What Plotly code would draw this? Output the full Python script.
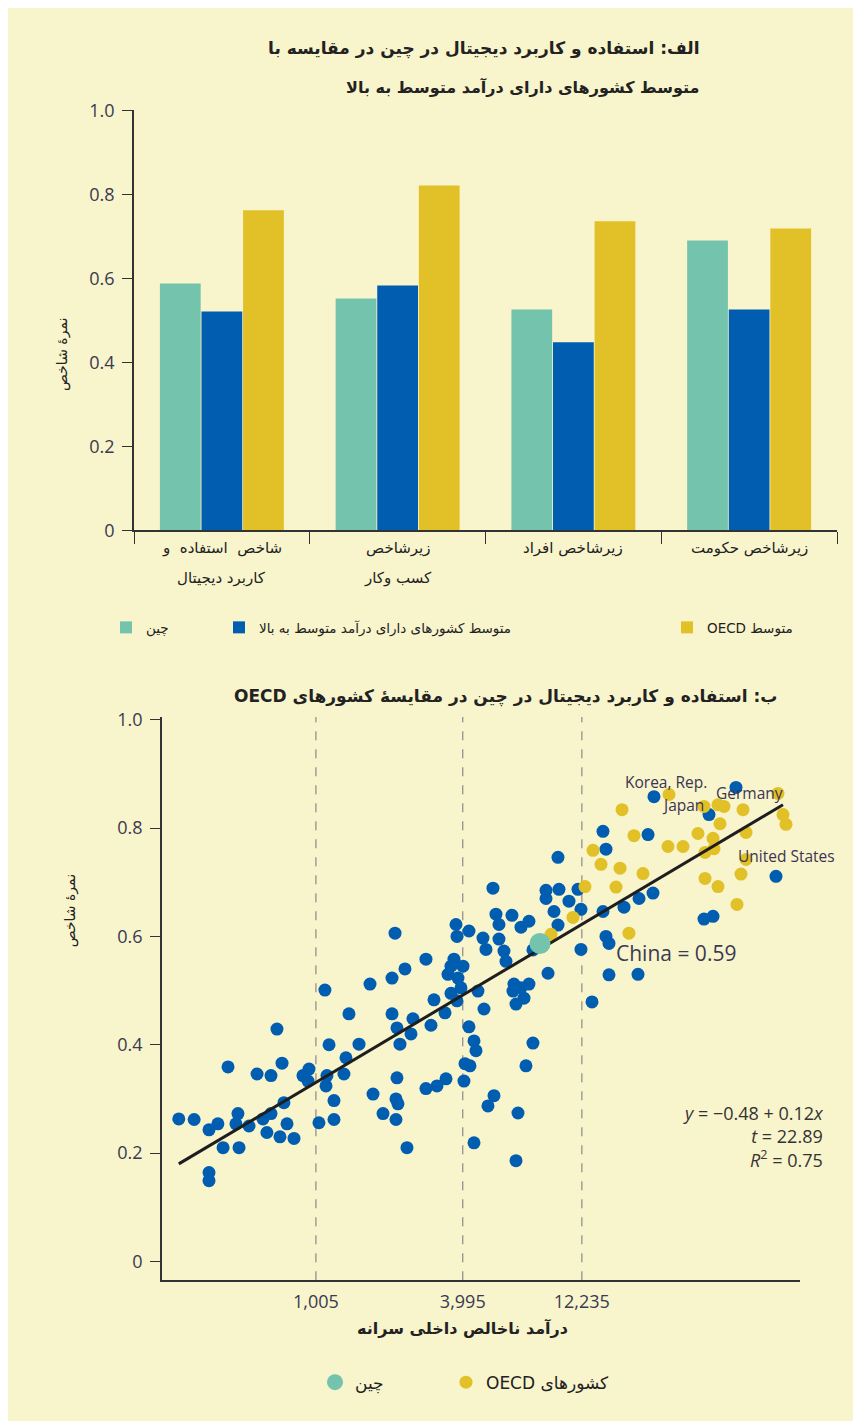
import numpy as np
import plotly.graph_objects as go

W, H = 861, 1421
BG = "#f8f4cc"
TEAL = "#74c3ad"
BLUE = "#005db0"
YELLOW = "#e2c027"
TXT = "#222222"
TICK = "#3a3a52"
FA = "DejaVu Sans"
LAT = "Open Sans"

# ---------------- Panel A data ----------------
categories = ["شاخص استفاده و کاربرد دیجیتال", "زیرشاخص کسب وکار", "زیرشاخص افراد", "زیرشاخص حکومت"]
cat_line1 = ["شاخص  استفاده  و", "زیرشاخص", "زیرشاخص افراد", "زیرشاخص حکومت"]
cat_line2 = ["کاربرد دیجیتال", "کسب وکار", "", ""]
china_bar = [0.588, 0.552, 0.526, 0.690]
umi_bar = [0.521, 0.583, 0.448, 0.526]
oecd_bar = [0.762, 0.821, 0.736, 0.719]
bar_ticks = [0, 0.2, 0.4, 0.6, 0.8, 1.0]
bar_ticktext = ["0", "0.2", "0.4", "0.6", "0.8", "1.0"]

# ---------------- Panel B data ----------------
blue_gdp = [277, 320, 368, 400, 368, 368, 420, 440, 483, 474, 488, 536, 578, 611, 659, 659, 634, 697,
            731, 744, 766, 717, 818, 890, 942, 933, 1034, 1094, 1137, 1115, 1105, 1191, 1191, 1308,
            1333, 1371, 1507, 1671, 1719, 1888, 2055, 2114, 2055, 2153, 2214, 2153, 2133, 2173, 2133,
            2321, 2365, 2502, 2456, 2827, 3049, 2964, 3381, 3413, 3136, 2827, 3749, 3784, 4236, 3679,
            3577, 4004, 3478, 3820, 3577, 3929, 3784, 4041, 4080, 4276, 4236, 4440, 4524, 4440, 4609,
            5307, 9778, 5459, 6344, 5615, 6906, 7443, 8736, 9870, 8736, 10841, 11798, 9417, 9778,
            12136, 14925, 15350, 14925, 18180, 15350, 15790, 12136, 5615, 5885, 5998, 7728, 8903,
            6464, 6404, 6906, 7443, 7103, 6589, 7728, 7237, 4877, 5358, 5063, 6714, 13460, 15790,
            20740, 20940, 24100, 52090, 40420, 22790, 75860, 23880, 38560, 41970, 4831, 4969, 6589]
blue_score = [0.263, 0.262, 0.243, 0.254, 0.164, 0.149, 0.210, 0.359, 0.273, 0.254, 0.210, 0.250,
              0.346, 0.263, 0.343, 0.273, 0.238, 0.429, 0.366, 0.293, 0.254, 0.230, 0.227, 0.343,
              0.355, 0.333, 0.256, 0.501, 0.400, 0.343, 0.324, 0.297, 0.262, 0.346, 0.376, 0.457,
              0.401, 0.512, 0.309, 0.273, 0.523, 0.606, 0.457, 0.431, 0.401, 0.339, 0.300, 0.291,
              0.262, 0.540, 0.210, 0.448, 0.420, 0.558, 0.483, 0.436, 0.459, 0.337, 0.324, 0.319,
              0.622, 0.600, 0.610, 0.558, 0.545, 0.545, 0.530, 0.523, 0.495, 0.505, 0.481, 0.333,
              0.365, 0.361, 0.433, 0.407, 0.389, 0.219, 0.499, 0.689, 0.746, 0.641, 0.639, 0.622,
              0.617, 0.628, 0.685, 0.687, 0.670, 0.665, 0.687, 0.646, 0.621, 0.650, 0.794, 0.761,
              0.646, 0.654, 0.600, 0.587, 0.576, 0.595, 0.573, 0.554, 0.575, 0.532, 0.512, 0.499,
              0.505, 0.512, 0.486, 0.475, 0.403, 0.361, 0.466, 0.306, 0.287, 0.274, 0.479, 0.529,
              0.530, 0.670, 0.858, 0.875, 0.825, 0.788, 0.711, 0.680, 0.632, 0.637, 0.597, 0.576,
              0.186]
oecd_gdp = [27750, 17850, 43990, 46540, 55640, 77300, 81020, 83330, 44820, 19970, 36440, 57230,
            41970, 27490, 31660, 42360, 38930, 13590, 14650, 17520, 21730, 57230, 38930, 54590,
            12600, 16870, 43990, 52580, 11257, 19050, 9157, 38560]
oecd_score = [0.862, 0.834, 0.843, 0.840, 0.834, 0.864, 0.825, 0.807, 0.808, 0.786, 0.790, 0.792,
              0.781, 0.766, 0.766, 0.762, 0.755, 0.759, 0.733, 0.726, 0.716, 0.742, 0.707, 0.715,
              0.692, 0.691, 0.692, 0.659, 0.635, 0.606, 0.604, 0.840]
china_gdp = [8255]
china_score = [0.587]
fit_gdp = [277, 81000]
fit_score = [0.180, 0.843]
gdp_ticks = [1005, 3995, 12235]
gdp_ticktext = ["1,005", "3,995", "12,235"]
sc_ticks = [0, 0.2, 0.4, 0.6, 0.8, 1.0]
sc_ticktext = ["0", "0.2", "0.4", "0.6", "0.8", "1.0"]
country_labels = ["Korea, Rep.", "Japan", "Germany", "United States"]
label_gdp = [27000, 31700, 58900, 83400]
label_score = [0.886, 0.843, 0.864, 0.748]
eq_text = "<i>y</i> = −0.48 + 0.12<i>x</i><br><i>t</i> = 22.89<br><i>R</i><sup>2</sup> = 0.75"


def px(v):
    return v / W


def py(v):
    return 1 - v / H


fig = go.Figure()

# Bars
for name, vals, col, lg in [("چین", china_bar, TEAL, "legend"),
                            ("متوسط کشورهای دارای درآمد متوسط به بالا", umi_bar, BLUE, "legend2"),
                            ("OECD متوسط", oecd_bar, YELLOW, "legend3")]:
    fig.add_trace(go.Bar(x=categories, y=vals, name=name, marker=dict(color=col, line=dict(width=0)),
                         xaxis="x", yaxis="y", legend=lg, hoverinfo="skip"))

# Scatter
fig.add_trace(go.Scatter(x=blue_gdp, y=blue_score, mode="markers", marker=dict(size=13, color=BLUE),
                         xaxis="x2", yaxis="y2", showlegend=False, hoverinfo="skip"))
fig.add_trace(go.Scatter(x=oecd_gdp, y=oecd_score, mode="markers", marker=dict(size=13, color=YELLOW),
                         xaxis="x2", yaxis="y2", name="OECD کشورهای", legend="legend5", hoverinfo="skip"))
fig.add_trace(go.Scatter(x=fit_gdp, y=fit_score, mode="lines", line=dict(color="#1e1e1e", width=3),
                         xaxis="x2", yaxis="y2", showlegend=False, hoverinfo="skip"))
fig.add_trace(go.Scatter(x=china_gdp, y=china_score, mode="markers", marker=dict(size=21, color=TEAL),
                         xaxis="x2", yaxis="y2", name="چین", legend="legend4", hoverinfo="skip"))

# dashed reference lines at tick incomes
for g in gdp_ticks:
    fig.add_shape(type="line", x0=g, x1=g, y0=0, y1=1, xref="x2", yref="y2 domain",
                  line=dict(color="#8a8a8a", width=1.2, dash="dash"), layer="below")

ann = []
# titles
ann.append(dict(x=px(693), y=py(28), xref="paper", yref="paper", xanchor="right", yanchor="middle",
                text="<b>الف: استفاده و کاربرد دیجیتال در چین در مقایسه با</b>", showarrow=False,
                font=dict(family=FA, size=17, color=TXT)))
ann.append(dict(x=px(693), y=py(67), xref="paper", yref="paper", xanchor="right", yanchor="middle",
                text="<b>متوسط کشورهای دارای درآمد متوسط به بالا</b>", showarrow=False,
                font=dict(family=FA, size=16, color=TXT)))
ann.append(dict(x=px(497), y=py(687), xref="paper", yref="paper", xanchor="center", yanchor="middle",
                text="<b>OECD ب: استفاده و کاربرد دیجیتال در چین در مقایسهٔ کشورهای</b>", showarrow=False,
                font=dict(family=FA, size=17, color=TXT)))
# axis titles
ann.append(dict(x=px(44), y=py(300), xref="paper", yref="paper", textangle=-90, text="نمرهٔ شاخص",
                showarrow=False, font=dict(family=FA, size=14, color=TXT)))
ann.append(dict(x=px(52), y=py(905), xref="paper", yref="paper", textangle=-90, text="نمرهٔ شاخص",
                showarrow=False, font=dict(family=FA, size=14, color=TXT)))
ann.append(dict(x=px(454), y=py(1342), xref="paper", yref="paper", text="<b>درآمد ناخالص داخلی سرانه</b>",
                showarrow=False, font=dict(family=FA, size=16, color=TXT)))
# category labels
for c, l1, l2 in zip(categories, cat_line1, cat_line2):
    ann.append(dict(x=c, y=py(536), xref="x", yref="paper", text=l1, showarrow=False,
                    font=dict(family=FA, size=15, color=TXT)))
    if l2:
        ann.append(dict(x=c, y=py(567), xref="x", yref="paper", text=l2, showarrow=False,
                        font=dict(family=FA, size=15, color=TXT)))
# country labels
for t, g, s in zip(country_labels, label_gdp, label_score):
    ann.append(dict(x=np.log10(g), y=s, xref="x2", yref="y2", text=t, showarrow=False,
                    xanchor="center", font=dict(family=LAT, size=15.5, color="#3a3550")))
ann.append(dict(x=np.log10(china_gdp[0]), y=china_score[0], xref="x2", yref="y2", xshift=74, yshift=-10,
                xanchor="left", text="China = 0.59", showarrow=False,
                font=dict(family=LAT, size=21, color="#3a3a50")))
ann.append(dict(x=px(818), y=py(1135), xref="paper", yref="paper", xanchor="right", yanchor="middle",
                align="right", showarrow=False, text=eq_text,
                font=dict(family=LAT, size=18, color="#333333")))

leg_common = dict(orientation="h", bgcolor="rgba(0,0,0,0)", xanchor="left", yanchor="middle",
                  itemsizing="trace")
leg_font_a = dict(family=FA, size=13.5, color=TXT)
leg_font_b = dict(family=FA, size=17, color=TXT)

axis_common = dict(showgrid=False, zeroline=False, showline=True, linecolor="#333333", linewidth=1.5,
                   tickfont=dict(family=LAT, size=18, color=TICK), ticks="outside", ticklen=10,
                   tickcolor="#333333", tickwidth=1.2, ticklabelstandoff=4)

fig.update_layout(
    width=W, height=H, margin=dict(l=0, r=0, t=0, b=0),
    paper_bgcolor=BG, plot_bgcolor=BG,
    barmode="group", bargap=0.29, bargroupgap=0.02,
    xaxis=dict(domain=[px(126), px(829)], anchor="y", showgrid=False, zeroline=False, showline=True,
               linecolor="#333333", linewidth=1.5, ticks="outside", tickson="boundaries", ticklen=12,
               tickcolor="#333333", showticklabels=False, fixedrange=True),
    yaxis=dict(domain=[py(518), py(91)], anchor="x", range=[0, 1.0], tickvals=bar_ticks,
               ticktext=bar_ticktext, **axis_common),
    xaxis2=dict(domain=[px(154), px(792)], anchor="y2", type="log", range=[2.374, 4.978],
                tickvals=gdp_ticks, ticktext=gdp_ticktext, showgrid=False, zeroline=False, showline=True,
                linecolor="#333333", linewidth=1.5, ticks="", ticklabelstandoff=4,
                tickfont=dict(family=LAT, size=18, color=TICK)),
    yaxis2=dict(domain=[py(1281), py(708)], anchor="x2", range=[-0.035, 1.005], tickvals=sc_ticks,
                ticktext=sc_ticktext, **axis_common),
    legend=dict(x=px(98), y=py(617), font=leg_font_a, **leg_common),
    legend2=dict(x=px(211), y=py(617), font=leg_font_a, **leg_common),
    legend3=dict(x=px(659), y=py(617), font=leg_font_a, **leg_common),
    legend4=dict(x=px(307), y=py(1385), font=leg_font_b, **leg_common),
    legend5=dict(x=px(438), y=py(1385), font=leg_font_b, **leg_common),
    annotations=ann,
    showlegend=True,
)

fig.write_html("out.html")
